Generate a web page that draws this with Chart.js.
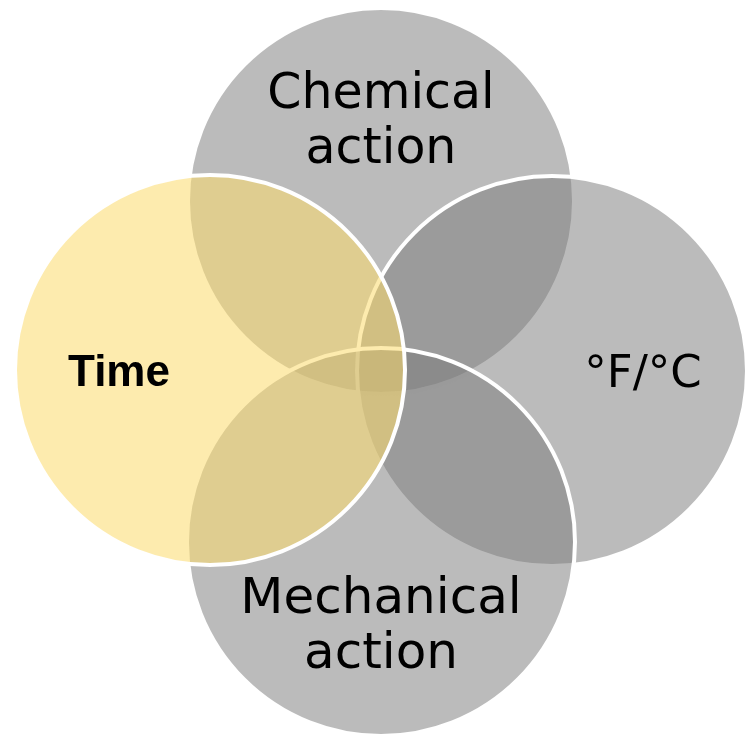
<!DOCTYPE html>
<html>
<head>
<meta charset="utf-8">
<script src="https://cdn.jsdelivr.net/npm/chart.js@4.4.1/dist/chart.umd.min.js"></script>
<style>
  html, body { margin: 0; padding: 0; background: #ffffff; }
  #wrap { width: 750px; height: 734px; }
</style>
</head>
<body>
<div id="wrap"><canvas id="venn"></canvas></div>
<script>
// circles, listed top-most first (Chart.js draws dataset 0 last)
const circleNames = ["Time", "Mechanical action", "°F/°C", "Chemical action"]
const circleX = [210, 381, 552, 381]
const circleY = [370, 542, 371, 201]
const circleR = [195, 194, 195, 193]
const circleFill = [
  "rgba(252, 220, 110, 0.56)",
  "rgba(125, 125, 125, 0.52)",
  "rgba(125, 125, 125, 0.52)",
  "rgba(125, 125, 125, 0.52)",
]

// label lines and where they sit
const labelLines = [["Time"], ["Mechanical", "action"], ["°F/°C"], ["Chemical", "action"]]
const labelX = [119, 381, 643, 381]
const labelY = [374, 628, 375, 123]
const labelBold = [true, false, false, false]
const labelSize = [44, 50, 45, 49]
const labelFont = ["'Liberation Sans'", "'DejaVu Sans'", "'DejaVu Sans'", "'DejaVu Sans'"]

const labelPlugin = {
  id: "vennLabels",
  afterDatasetsDraw(chart) {
    const { ctx, scales } = chart
    ctx.save()
    ctx.fillStyle = "#000000"
    ctx.textAlign = "center"
    ctx.textBaseline = "middle"
    labelLines.forEach((lines, i) => {
      ctx.font = (labelBold[i] ? "bold " : "") + labelSize[i] + "px " + labelFont[i] + ", sans-serif"
      const cx = scales.x.getPixelForValue(labelX[i])
      const cy = scales.y.getPixelForValue(labelY[i])
      const lh = 55
      const top = cy - (lines.length - 1) * lh / 2
      lines.forEach((t, j) => ctx.fillText(t, cx, top + j * lh))
    })
    ctx.restore()
  },
}

new Chart(document.getElementById("venn"), {
  type: "bubble",
  data: {
    datasets: circleNames.map((name, i) => ({
      label: name,
      data: [{ x: circleX[i], y: circleY[i], r: circleR[i] }],
      backgroundColor: circleFill[i],
      borderColor: "#ffffff",
      borderWidth: 4,
      hoverRadius: 0,
      clip: false,
    })),
  },
  options: {
    responsive: true,
    maintainAspectRatio: false,
    animation: false,
    events: [],
    layout: { padding: 0, autoPadding: false },
    scales: {
      x: { type: "linear", min: 0, max: 750, display: false },
      y: { type: "linear", min: 0, max: 734, reverse: true, display: false },
    },
    plugins: {
      legend: { display: false },
      tooltip: { enabled: false },
    },
  },
  plugins: [labelPlugin],
})
</script>
</body>
</html>
